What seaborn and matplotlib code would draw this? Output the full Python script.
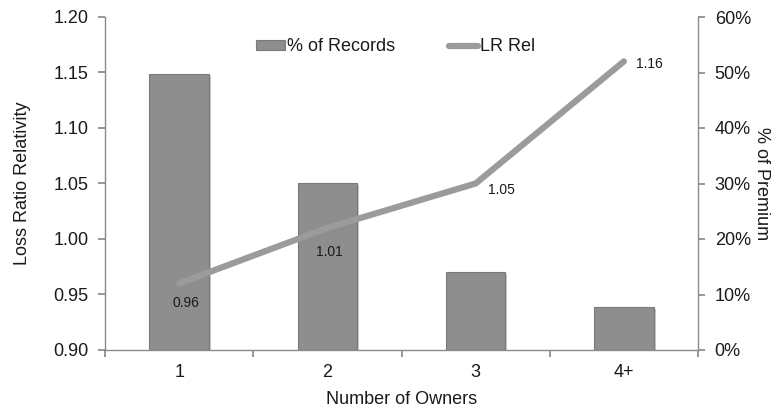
import matplotlib
matplotlib.use("Agg")
import matplotlib.pyplot as plt
import matplotlib.patheffects as pe
from matplotlib.patches import Patch
from matplotlib.lines import Line2D
from matplotlib.ticker import FuncFormatter
import seaborn as sns
import pandas as pd

# Data
owners = ["1", "2", "3", "4+"]
pct_records = [49.7, 30.1, 14.1, 7.7]      # % of premium, right axis
lr_rel = [0.96, 1.01, 1.05, 1.16]          # loss ratio relativity, left axis

df = pd.DataFrame({"owners": owners, "pct": pct_records, "lr": lr_rel})

sns.set_theme(style="white")
plt.rcParams["font.family"] = ["Liberation Sans", "DejaVu Sans"]

BAR_FACE = "#8e8e8e"
BAR_EDGE = "#7a7a7a"
LINE_COL = "#9b9b9b"
AXIS_COL = "#8a8a8a"
TEXT_COL = "#1a1a1a"
FS = 13

fig = plt.figure(figsize=(7.81, 4.08), dpi=100)
ax = fig.add_axes([105 / 781, 1 - 350 / 408, 593 / 781, 333 / 408])
ax2 = ax.twinx()

# Bars on the right (% of Premium) axis
sns.barplot(data=df, x="owners", y="pct", ax=ax2, color=BAR_FACE,
            width=0.4, saturation=1, edgecolor=BAR_EDGE, linewidth=0.8)
for p in ax2.patches:
    p.set_path_effects([pe.SimplePatchShadow(offset=(1.5, -1.5), alpha=0.25),
                        pe.Normal()])

# Line on the left (relativity) axis, drawn above the bars
sns.lineplot(data=df, x="owners", y="lr", ax=ax, color=LINE_COL,
             linewidth=4.5, solid_capstyle="round", sort=False)
ax.set_zorder(ax2.get_zorder() + 1)
ax.patch.set_visible(False)

# Value labels on the line
label_offsets = [((7, -20), "center"), ((2, -24), "center"),
                 ((12, -7), "left"), ((12, -3), "left")]
for i, (v, (off, ha)) in enumerate(zip(lr_rel, label_offsets)):
    ax.annotate(f"{v:.2f}", (i, v), xytext=off, textcoords="offset pixels",
                ha=ha, va="center", fontsize=10, color=TEXT_COL)

# Axes ranges and ticks
ax.set_xlim(-0.5, 3.5)
ax.set_ylim(0.90, 1.20)
ax.set_yticks([0.90, 0.95, 1.00, 1.05, 1.10, 1.15, 1.20])
ax.yaxis.set_major_formatter(FuncFormatter(lambda v, _: f"{v:.2f}"))
ax2.set_ylim(0, 60)
ax2.set_yticks(range(0, 61, 10))
ax2.yaxis.set_major_formatter(FuncFormatter(lambda v, _: f"{v:.0f}%"))

ax.set_xticks([-0.5, 0.5, 1.5, 2.5, 3.5], minor=False)
ax.set_xticklabels([])
ax.set_xticks(range(len(owners)), minor=True)
ax.set_xticklabels(owners, minor=True)
ax.tick_params(axis="x", which="major", length=5, color=AXIS_COL, direction="out",
               bottom=True)
ax.tick_params(axis="x", which="minor", length=0, labelsize=FS, labelcolor=TEXT_COL, pad=10)
ax.tick_params(axis="y", length=5, color=AXIS_COL, direction="out", left=True,
               labelsize=FS, labelcolor=TEXT_COL, pad=7)
ax2.tick_params(axis="y", length=5, color=AXIS_COL, direction="out", right=True,
                labelsize=FS, labelcolor=TEXT_COL, pad=7)
ax2.tick_params(axis="x", length=0)
ax2.set_xlabel("")

ax.set_xlabel("Number of Owners", fontsize=FS, color=TEXT_COL, labelpad=7)
ax.set_ylabel("Loss Ratio Relativity", fontsize=FS, color=TEXT_COL, labelpad=16)
ax2.set_ylabel("% of Premium", fontsize=FS, color=TEXT_COL, rotation=270, labelpad=14)

for a in (ax, ax2):
    a.spines["top"].set_visible(False)
    for s in ("left", "right", "bottom"):
        a.spines[s].set_color(AXIS_COL)
        a.spines[s].set_linewidth(1.0)
ax.spines["right"].set_visible(False)
ax2.spines["left"].set_visible(False)
ax2.spines["bottom"].set_visible(False)

handles = [Patch(facecolor=BAR_FACE, edgecolor=BAR_EDGE, linewidth=0.8),
           Line2D([0], [0], color=LINE_COL, linewidth=4.5, solid_capstyle="round")]
ax.legend(handles, ["% of Records", "LR Rel"], loc="center",
          bbox_to_anchor=(0.49, 0.91), ncol=2, frameon=False, fontsize=FS,
          handlelength=1.6, handleheight=0.5, handletextpad=0.1, columnspacing=3.0,
          labelcolor=TEXT_COL)

fig.savefig("out.png", dpi=100)
